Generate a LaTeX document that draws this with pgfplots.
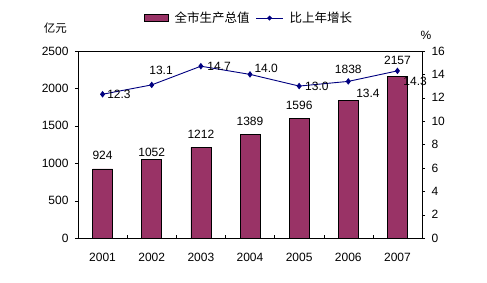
\documentclass[border=0pt]{standalone}
\usepackage{fontspec}
\setmainfont{Liberation Sans}
\newfontfamily\cjk{Noto Sans CJK SC}
\usepackage{pgfplots}
\pgfplotsset{compat=1.18}
\usetikzlibrary{shapes.geometric}
\definecolor{barc}{HTML}{993366}
\definecolor{linec}{HTML}{000080}
\begin{document}
\begin{tikzpicture}[font=\fontsize{12}{14}\selectfont]
\path[use as bounding box] (-78pt,-44pt) rectangle (409pt,238pt);
\begin{axis}[
  at={(0,0)}, anchor=south west,
  scale only axis, width=344pt, height=187pt,
  xmin=-0.5, xmax=6.5, ymin=0, ymax=2500,
  ytick={0,500,...,2500},
  xtick={0,...,6}, xticklabels={2001,2002,2003,2004,2005,2006,2007},
  minor xtick={0.5,1.5,...,5.5},
  xtick pos=bottom, ytick pos=left,
  tick align=outside,
  major tick length=3pt, minor tick length=3pt,
  major x tick style={draw=none},
  minor x tick style={black, yshift=3pt},
  y tick style={black},
  xticklabel style={yshift=-9pt},
  yticklabel style={xshift=-3pt},
  /pgf/number format/assume math mode=true,
  /pgf/number format/1000 sep={},
  axis line style={black},
  clip=false,
]
\addplot[ybar, bar width=20pt, fill=barc, draw=black, line width=0.7pt] coordinates {
  (0,924) (1,1052) (2,1212) (3,1389) (4,1596) (5,1838) (6,2157)};
\node at (axis cs:0,1110) {924};
\node at (axis cs:1,1150) {1052};
\node at (axis cs:2,1386) {1212};
\node at (axis cs:3,1555) {1389};
\node at (axis cs:4,1769) {1596};
\node at (axis cs:5,2259) {1838};
\node at (axis cs:6,2376) {2157};
\node[font=\cjk\fontsize{11.5}{13}\selectfont] at (axis cs:-0.96,2810) {亿元};
\end{axis}
\begin{axis}[
  at={(0,0)}, anchor=south west,
  scale only axis, width=344pt, height=187pt,
  xmin=-0.5, xmax=6.5, ymin=0, ymax=16,
  axis x line=none, axis y line*=right,
  ytick={0,2,...,16},
  tick align=outside, major tick length=3pt,
  y tick style={black},
  yticklabel style={xshift=3pt},
  /pgf/number format/assume math mode=true,
  axis line style={black},
  clip=false,
  legend columns=2,
  legend style={draw=none, fill=none, at={(axis description cs:0.497,1.176)}, anchor=center,
    font=\cjk\fontsize{12.5}{14}\selectfont, column sep=4pt, inner sep=1pt},
]
\addlegendimage{legend image code/.code={\draw[fill=barc,draw=black,line width=0.7pt] (0pt,-3.5pt) rectangle (24pt,3.5pt);}}
\addlegendentry{全市生产总值}
\addplot[color=linec, line width=0.9pt, mark=diamond*, mark size=2.6pt, mark options={fill=linec},
  legend image code/.code={\draw[linec, line width=0.9pt] (0pt,0pt) -- (27pt,0pt); \path (13.5pt,0pt) node[diamond, fill=linec, inner sep=0pt, minimum size=5.5pt] {};}]
 coordinates {(0,12.3) (1,13.1) (2,14.7) (3,14.0) (4,13.0) (5,13.4) (6,14.3)};
\addlegendentry{比上年增长}
\node at (axis cs:0.334,12.29) {12.3};
\node at (axis cs:1.19,14.31) {13.1};
\node at (axis cs:2.37,14.65) {14.7};
\node at (axis cs:3.33,14.48) {14.0};
\node at (axis cs:4.36,13.0) {13.0};
\node at (axis cs:5.40,12.38) {13.4};
\node at (axis cs:6.36,13.37) {14.3};
\node at (axis cs:6.58,17.3) {\%};
\end{axis}
\end{tikzpicture}
\end{document}
